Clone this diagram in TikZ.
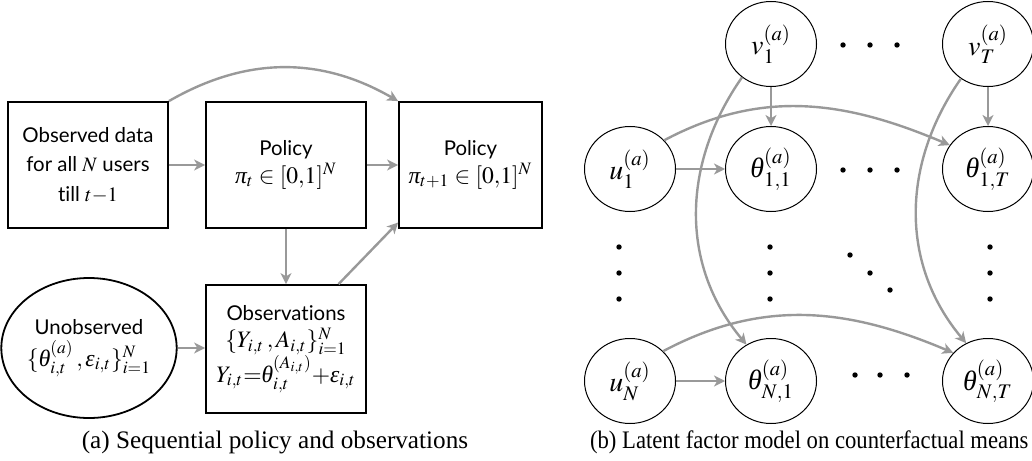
\documentclass[tikz,border=0pt]{standalone}
\usepackage{mathptmx}
\usepackage[no-math]{fontspec}
\setmainfont{Liberation Serif}
\newfontfamily\boxfont{Lato}[Ligatures=NoCommon]
\usetikzlibrary{arrows.meta,shapes.geometric,calc}
\definecolor{arrowgray}{HTML}{999999}
% Greek letters taken from the Times-like serif italic
\newcommand\gth{\mathord{\hbox{\rmfamily\itshape θ}}}
\newcommand\gpi{\mathord{\hbox{\rmfamily\itshape π}}}
\newcommand\geps{\mathord{\hbox{\rmfamily\itshape ε}}}
% formula lines inside the boxes of panel (a)
\newcommand\fml[1]{{\fontsize{11.8}{14}\selectfont$#1$}}

\begin{document}
\begin{tikzpicture}[x=0.5pt,y=0.5pt,
  flow/.style={draw=arrowgray, line width=1.2pt, -{Stealth[length=5.5pt,width=5.5pt,inset=1.6pt]}},
  stage/.style={draw=black, line width=0.9pt, rectangle, minimum width=80pt, minimum height=63pt,
    inner sep=2pt, align=center, font=\boxfont\fontsize{10.2}{14.7}\selectfont},
  latent/.style={draw=black, line width=0.5pt, ellipse, minimum width=45.5pt, minimum height=42.5pt,
    inner sep=0pt, font=\fontsize{14}{16}\selectfont},
  dotmark/.style={fill=black},
  caption/.style={font=\fontsize{12.6}{15}\selectfont}]
\useasboundingbox (0,0) rectangle (1032,-460);

% ---------- (a) sequential policy ----------
\node[stage] (data) at (88,-165) {Observed data\\for all $N$ users\\till $t{-}1$};
\node[stage] (pol) at (286,-165) {Policy\\[-1pt]\fml{\gpi_t\in[0{,}1]^N}};
\node[stage, minimum width=71.5pt] (polnext) at (470.5,-165) {Policy\\[-1pt]\fml{\gpi_{t+1}\in[0{,}1]^N}};
\node[stage, minimum height=64pt] (obs) at (286,-349)
  {Observations\\[-1pt]\fml{\{Y_{i,t}\,,A_{i,t}\}_{i=1}^N}\\[-1pt]\fml{Y_{i,t}{=}\gth^{(A_{i,t})}_{i,t}{+}\geps_{i,t}}};
\node[draw=black, line width=0.9pt, ellipse, minimum width=81pt, minimum height=70pt, inner sep=0pt,
  align=center, font=\boxfont\fontsize{10.2}{14.7}\selectfont] (unobs) at (89,-348)
  {Unobserved\\[1pt]\fml{\{\gth^{(a)}_{i,t}\,,\geps_{i,t}\}_{i=1}^N}};

\draw[flow] (data) -- (pol);
\draw[flow] (pol) -- (polnext);
\draw[flow] (data.north east) to[out=30,in=150] (polnext.north west);
\draw[flow] (pol.south) -- (obs.north);
\draw[flow] (obs.51) -- ($(polnext.south west)!0.05!(polnext.north west)$);
\draw[flow] (unobs.east) -- (unobs.east -| obs.west);

\node[caption] (capa) at (275,-442) {(a) Sequential policy and observations};

% ---------- (b) latent factor model ----------
\node[latent] (v1) at (771,-44) {$v^{(a)}_1$};
\node[latent] (vT) at (988,-44) {$v^{(a)}_T$};
\node[latent] (u1) at (630,-169) {$u^{(a)}_1$};
\node[latent] (t11) at (771,-169) {$\gth^{(a)}_{1,1}$};
\node[latent] (t1T) at (988,-169) {$\gth^{(a)}_{1,T}$};
\node[latent] (uN) at (630,-381) {$u^{(a)}_N$};
\node[latent] (tN1) at (771,-381) {$\gth^{(a)}_{N,1}$};
\node[latent] (tNT) at (988,-381) {$\gth^{(a)}_{N,T}$};

\draw[flow] (v1) -- (t11);
\draw[flow] (vT) -- (t1T);
\draw[flow] (u1) -- (t11);
\draw[flow] (uN) -- (tN1);
\draw[flow] (u1.40) to[out=28,in=157] (t1T.148);
\draw[flow] (uN.42) to[out=28,in=157] (tNT.141);
\draw[flow] (v1.229) to[out=235,in=130] (tN1.124);
\draw[flow] (vT.232) to[out=235,in=130] (tNT.120);

% ellipsis dots
\foreach \x in {843,870,897} {
  \fill[dotmark] (\x,-45) circle (1.35pt);
  \fill[dotmark] (\x,-170) circle (1.35pt);
}
\foreach \x in {855,880,907} \fill[dotmark] (\x,-375) circle (1.35pt);
\foreach \x in {619,770,990} \foreach \y in {247,273,299} \fill[dotmark] (\x,-\y) circle (1.35pt);
\foreach \x/\y in {850/255,870/273,890/290} \fill[dotmark] (\x,-\y) circle (1.35pt);

\node[caption, anchor=west] (capb) at (583,-442)
  {\scalebox{0.9}[1]{(b) Latent factor model on counterfactual means}};
\end{tikzpicture}
\end{document}
